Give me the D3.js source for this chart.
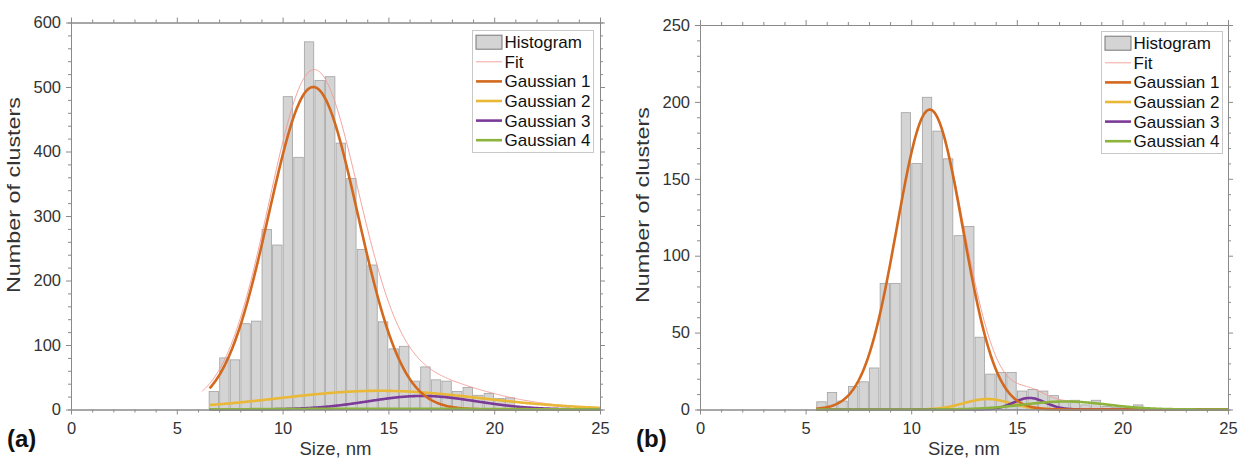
<!DOCTYPE html>
<html><head><meta charset="utf-8">
<script src="https://cdn.jsdelivr.net/npm/d3@7"></script>
<style>body{margin:0;background:#fff} text{font-family:"Liberation Sans",Arial,Helvetica,sans-serif}</style>
</head><body><svg id="c" width="1241" height="459"></svg>
<script>
// ---------- data ----------
const legendNames = ["Histogram","Fit","Gaussian 1","Gaussian 2","Gaussian 3","Gaussian 4"];
const xTickValues = [0,5,10,15,20,25];
const binWidth = 0.5;

// panel (a)
const binStartA = [6.5,7,7.5,8,8.5,9,9.5,10,10.5,11,11.5,12,12.5,13,13.5,14,14.5,15,15.5,16,16.5,17,17.5,18,18.5,19,19.5,20,20.5];
const countsA   = [28,80,77,133,137,279,255,485,391,570,510,516,413,358,248,224,136,94,98,44,66,46,44,28,34,22,25,17,18];
const yTicksA   = [0,100,200,300,400,500,600];
const gCenterA  = [11.45,14.6,16.6,15];
const gAmpA     = [500,29,21,1.2];
const gSigmaA   = [2.1,4.75,2.55,5];

// panel (b)
const binStartB = [5.5,6,6.5,7,7.5,8,8.5,9,9.5,10,10.5,11,11.5,12,12.5,13,13.5,14,14.5,15,15.5,16,16.5,17,17.5,18,18.5,19,19.5,20,20.5];
const countsB   = [5,11,5.5,15,18,27,82,82,193,160,203,181,163,113,119,47,23,24,24,12,13,12,9,5.5,6,3,6,2,1.5,1,3];
const yTicksB   = [0,50,100,150,200,250];
const gCenterB  = [10.88,13.6,15.6,17.3];
const gAmpB     = [195,6.8,7.5,5.2];
const gSigmaB   = [1.56,1.1,0.75,2.0];

const colors = ["#d4d4d4","#f29a94","#d2691e","#e9b836","#7b3a98","#8cb43c"];

// ---------- drawing ----------
const svg = d3.select("#c");
const axisColor = "#8a8a8a";
const textColor = "#333";

function gauss(x, c, a, s){ return a*Math.exp(-((x-c)*(x-c))/(2*s*s)); }

function panel(cfg){
  const g = svg.append("g");
  const x = d3.scaleLinear().domain([0,25]).range([cfg.left,cfg.right]);
  const y = d3.scaleLinear().domain([0,cfg.yMax]).range([cfg.bottom,cfg.top]);

  // bars
  g.append("g").selectAll("rect").data(cfg.bins).join("rect")
    .attr("x", (d)=> x(d)+0.6)
    .attr("width", (d)=> x(d+binWidth)-x(d)-1.2)
    .attr("y", (d,i)=> y(cfg.counts[i]))
    .attr("height", (d,i)=> y(0)-y(cfg.counts[i]))
    .attr("fill", colors[0]).attr("stroke","#a2a2a2").attr("stroke-width",0.8);

  const line = d3.line().x(d=>x(d[0])).y(d=>y(d[1])).curve(d3.curveLinear);
  const step = 0.05;
  // fit
  const fx = d3.range(cfg.fitRange[0], cfg.fitRange[1]+1e-9, step);
  const fitPts = fx.map(v=>[v, d3.sum(cfg.centers.map((c,k)=>gauss(v,c,cfg.amps[k],cfg.sigmas[k])))]);
  g.append("path").attr("d",line(fitPts)).attr("fill","none").attr("stroke",colors[1]).attr("stroke-width",0.9);
  // components
  const cx = d3.range(cfg.compRange[0], cfg.compRange[1]+1e-9, step);
  [1,2,0,3].forEach(k=>{
    const pts = cx.map(v=>[v, gauss(v,cfg.centers[k],cfg.amps[k],cfg.sigmas[k])]);
    g.append("path").attr("d",line(pts)).attr("fill","none").attr("stroke",colors[k+2]).attr("stroke-width",2.6).attr("stroke-linejoin","round");
  });

  // axes
  const styleAxis = (sel)=>{ sel.select(".domain").attr("stroke",axisColor); sel.selectAll(".tick line").attr("stroke",axisColor); sel.selectAll("text").attr("fill",textColor).style("font-size","16.5px"); };
  const minorX = d3.range(0,26,1).filter(v=>v%5!==0);
  const minorY = d3.range(0,cfg.yMax+1e-9,cfg.yMinor).filter(v=>!cfg.yTicks.includes(v));

  g.append("g").attr("transform",`translate(0,${cfg.bottom})`).call(d3.axisBottom(x).tickValues(minorX).tickSize(3).tickFormat("")).call(styleAxis);
  g.append("g").attr("transform",`translate(0,${cfg.bottom})`).call(d3.axisBottom(x).tickValues(xTickValues).tickSize(5).tickPadding(8).tickSizeOuter(0)).call(styleAxis);
  g.append("g").attr("transform",`translate(0,${cfg.top})`).call(d3.axisTop(x).tickValues(minorX).tickSize(3).tickFormat("")).call(styleAxis);
  g.append("g").attr("transform",`translate(0,${cfg.top})`).call(d3.axisTop(x).tickValues(xTickValues).tickSize(5).tickFormat("").tickSizeOuter(0)).call(styleAxis);

  g.append("g").attr("transform",`translate(${cfg.left},0)`).call(d3.axisLeft(y).tickValues(minorY).tickSize(3).tickFormat("")).call(styleAxis);
  g.append("g").attr("transform",`translate(${cfg.left},0)`).call(d3.axisLeft(y).tickValues(cfg.yTicks).tickSize(5).tickPadding(5).tickSizeOuter(0)).call(styleAxis);
  g.append("g").attr("transform",`translate(${cfg.right},0)`).call(d3.axisRight(y).tickValues(minorY).tickSize(3).tickFormat("")).call(styleAxis);
  g.append("g").attr("transform",`translate(${cfg.right},0)`).call(d3.axisRight(y).tickValues(cfg.yTicks).tickSize(5).tickFormat("").tickSizeOuter(0)).call(styleAxis);

  // titles
  g.append("text").attr("x",(cfg.left+cfg.right)/2).attr("y",455).attr("text-anchor","middle")
    .attr("fill",textColor).style("font-size","18.5px").text("Size, nm");
  g.append("text").attr("transform",`translate(${cfg.left-51},${cfg.yTitleY}) rotate(-90)`).attr("text-anchor","middle")
    .attr("fill",textColor).style("font-size","18.5px").attr("textLength",196).attr("lengthAdjust","spacingAndGlyphs").text("Number of clusters");
  g.append("text").attr("x",cfg.left-64).attr("y",447).attr("fill","#111").style("font-size","24px").style("font-weight","bold").text(cfg.tag);

  // legend
  const lg = g.append("g").attr("transform",`translate(${cfg.legX},${cfg.legY})`);
  lg.append("rect").attr("x",0).attr("y",0).attr("width",121).attr("height",122).attr("fill","#fff").attr("stroke","#c8c8c8");
  legendNames.forEach((name,i)=>{
    const cy = 11.7 + i*19.6;
    if(i===0){
      lg.append("rect").attr("x",3.5).attr("y",cy-7).attr("width",26).attr("height",14).attr("fill",colors[0]).attr("stroke","#777").attr("stroke-width",1);
    } else {
      lg.append("line").attr("x1",3.5).attr("x2",29.5).attr("y1",cy).attr("y2",cy).attr("stroke",colors[i]).attr("stroke-width",i===1?0.9:2.6);
    }
    lg.append("text").attr("x",32).attr("y",cy+6).attr("fill","#111").style("font-size","17px").text(name);
  });
}

panel({left:71,right:600,top:22.5,bottom:409.5,yMax:600,yTicks:yTicksA,yMinor:20,
  bins:binStartA,counts:countsA,centers:gCenterA,amps:gAmpA,sigmas:gSigmaA,
  fitRange:[6.2,25],compRange:[6.55,25],tag:"(a)",legX:472.5,legY:30.5,yTitleY:195});
panel({left:700,right:1228,top:25,bottom:409.5,yMax:250,yTicks:yTicksB,yMinor:10,
  bins:binStartB,counts:countsB,centers:gCenterB,amps:gAmpB,sigmas:gSigmaB,
  fitRange:[5.5,25],compRange:[5.5,25],tag:"(b)",legX:1101.5,legY:31.5,yTitleY:205});
</script></body></html>
